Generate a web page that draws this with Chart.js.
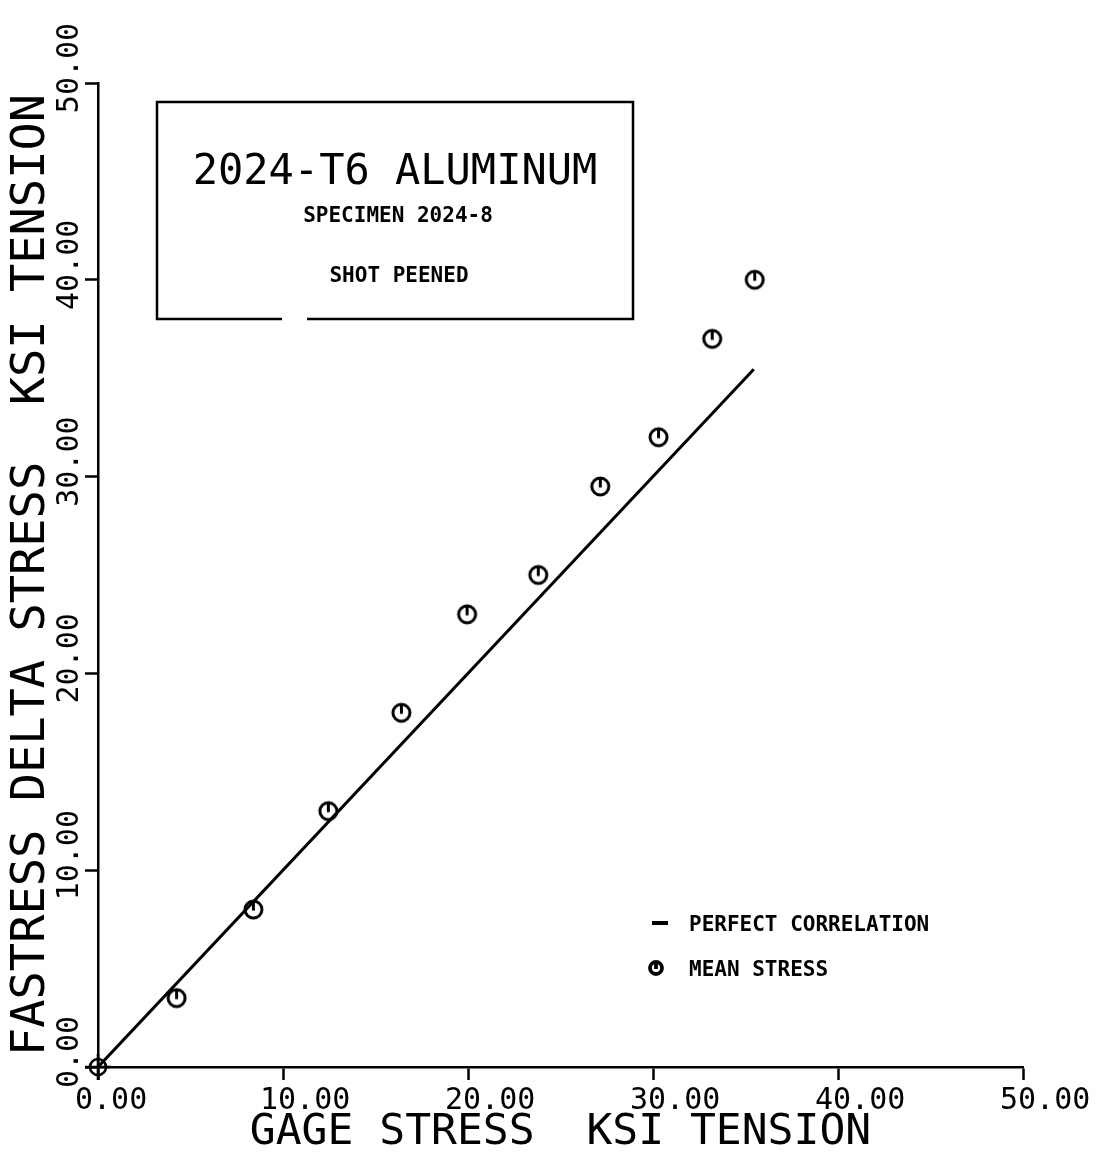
<!DOCTYPE html>
<html>
<head>
<meta charset="utf-8">
<title>2024-T6 Aluminum - Shot Peened</title>
<script src="https://cdn.jsdelivr.net/npm/chart.js@4.4.1/dist/chart.umd.min.js"></script>
<style>
  html, body { margin: 0; padding: 0; background: #fff; }
  #myChart { display: block; }
</style>
</head>
<body>
<canvas id="myChart" width="1102" height="1165"></canvas>
<script>
// values (ksi)
var gageStress = [0, 4.25, 8.4, 12.45, 16.4, 19.95, 23.8, 27.15, 30.3, 33.2, 35.5];
var fastress = [0, 3.5, 8.0, 13.0, 18.0, 23.0, 25.0, 29.5, 32.0, 37.0, 40.0];
var correlationX = [0, 35.45];
var correlationY = [0, 35.45];
var axisTicks = [0, 10, 20, 30, 40, 50];
var legendLabels = ['PERFECT CORRELATION', 'MEAN STRESS'];
var boxLines = ['2024-T6 ALUMINUM', 'SPECIMEN 2024-8', 'SHOT PEENED'];

var canvas = document.getElementById('myChart');
var ctx = canvas.getContext('2d');
var MONO = '"DejaVu Sans Mono", "Liberation Mono", monospace';

// plotter style markers
function makeMarker(origin, r, lw) {
    var c = document.createElement('canvas');
    var s = Math.ceil(r * 2 + 14);
    c.width = s;
    c.height = s;
    var g = c.getContext('2d');
    var m = s / 2;
    g.strokeStyle = '#000';
    g.lineWidth = lw;
    g.beginPath();
    g.arc(m, m, r, 0, Math.PI * 2);
    g.stroke();
    g.beginPath();
    if (origin) {
        g.moveTo(m - r - 5, m); g.lineTo(m + r + 5, m);
        g.moveTo(m, m - r - 5); g.lineTo(m, m + r + 5);
    } else {
        g.moveTo(m, m - r); g.lineTo(m, m + 1);
    }
    g.stroke();
    return c;
}
var originMarker = makeMarker(true, 8, 2.6);
var meanMarker = makeMarker(false, 8.5, 3);
var legendMarker = makeMarker(false, 6, 3.8);

var meanPoints = gageStress.map(function (x, i) { return { x: x, y: fastress[i] }; });
var linePoints = correlationX.map(function (x, i) { return { x: x, y: correlationY[i] }; });

var annotations = {
    id: 'annotations',
    afterDatasetsDraw: function (chart) {
        var c = chart.ctx;
        c.save();
        c.strokeStyle = '#000';
        c.fillStyle = '#000';
        c.lineWidth = 2.5;
        // title box, bottom edge has a small gap like the original
        c.beginPath();
        c.moveTo(282, 319);
        c.lineTo(157, 319);
        c.lineTo(157, 102);
        c.lineTo(633, 102);
        c.lineTo(633, 319);
        c.lineTo(307, 319);
        c.stroke();

        c.textAlign = 'center';
        c.textBaseline = 'alphabetic';
        c.font = '42px ' + MONO;
        c.fillText(boxLines[0], 395, 184);
        c.font = 'bold 21px ' + MONO;
        c.fillText(boxLines[1], 398, 222);
        c.fillText(boxLines[2], 399, 282);

        // legend
        c.lineWidth = 4;
        c.beginPath();
        c.moveTo(652, 923);
        c.lineTo(668, 923);
        c.stroke();
        c.drawImage(legendMarker, 656 - legendMarker.width / 2, 968 - legendMarker.height / 2);
        c.textAlign = 'left';
        c.font = 'bold 21px ' + MONO;
        c.fillText(legendLabels[0], 689, 931);
        c.fillText(legendLabels[1], 689, 976);
        c.restore();
    }
};

function fixedTicks(scale) {
    scale.ticks = axisTicks.map(function (v) { return { value: v }; });
}

new Chart(ctx, {
    type: 'scatter',
    data: {
        datasets: [{
            label: legendLabels[0],
            data: linePoints,
            showLine: true,
            borderColor: '#000',
            borderWidth: 3,
            pointRadius: 0,
            pointHoverRadius: 0
        }, {
            label: legendLabels[1],
            data: meanPoints,
            showLine: false,
            clip: false,
            pointStyle: meanPoints.map(function (p, i) { return i === 0 ? originMarker : meanMarker; }),
            pointRadius: 9,
            pointHoverRadius: 9
        }]
    },
    options: {
        responsive: false,
        animation: false,
        events: [],
        layout: {
            padding: { top: 83, right: 79, left: 0, bottom: 0 }
        },
        scales: {
            x: {
                type: 'linear',
                min: 0,
                max: 50,
                afterBuildTicks: fixedTicks,
                afterFit: function (s) {
                    s.height = 98;
                    s.paddingLeft = 0;
                    s.paddingRight = 0;
                },
                border: { display: true, color: '#000', width: 2.5 },
                grid: { drawOnChartArea: false, drawTicks: true, tickLength: 13, tickWidth: 2.5, tickColor: '#000' },
                ticks: {
                    color: '#000',
                    font: { family: MONO, size: 30 },
                    align: 'start',
                    labelOffset: -23,
                    padding: 3,
                    minRotation: 0,
                    maxRotation: 0,
                    autoSkip: false,
                    callback: function (v) { return Number(v).toFixed(2); }
                },
                title: {
                    display: true,
                    text: 'GAGE STRESS  KSI TENSION',
                    color: '#000',
                    font: { family: MONO, size: 43 },
                    padding: { top: 0, bottom: 6 }
                }
            },
            y: {
                type: 'linear',
                min: 0,
                max: 50,
                afterBuildTicks: fixedTicks,
                afterFit: function (s) { s.width = 98; },
                border: { display: true, color: '#000', width: 2.5 },
                grid: { drawOnChartArea: false, drawTicks: true, tickLength: 13, tickWidth: 2.5, tickColor: '#000' },
                ticks: {
                    color: '#000',
                    font: { family: MONO, size: 30 },
                    crossAlign: 'center',
                    labelOffset: -15,
                    padding: -30,
                    minRotation: 90,
                    maxRotation: 90,
                    autoSkip: false,
                    callback: function (v) { return Number(v).toFixed(2); }
                },
                title: {
                    display: true,
                    text: 'FASTRESS DELTA STRESS  KSI TENSION',
                    color: '#000',
                    font: { family: MONO, size: 47 },
                    padding: { top: 4, bottom: 0 }
                }
            }
        },
        plugins: {
            legend: { display: false },
            tooltip: { enabled: false }
        }
    },
    plugins: [annotations]
});
</script>
</body>
</html>
